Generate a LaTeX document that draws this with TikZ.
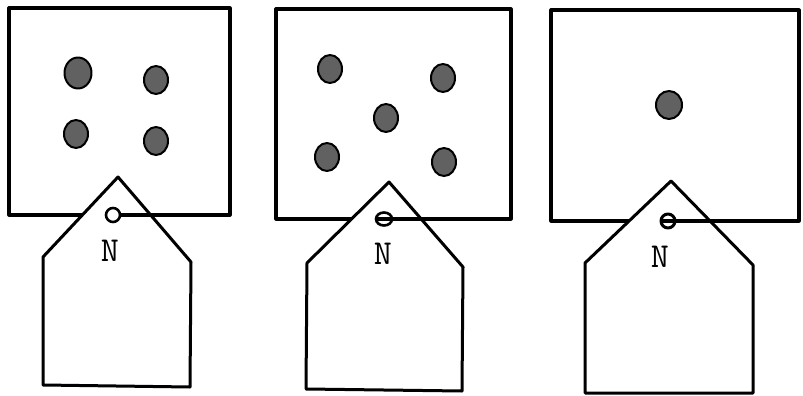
\documentclass[tikz,border=0pt]{standalone}
\usetikzlibrary{shapes.geometric}
\begin{document}
\begin{tikzpicture}[x=1pt,y=-1pt,line join=round,
  frame/.style={draw=black,line width=3.2pt},
  tagshape/.style={draw=black,fill=white,line width=3pt},
  holering/.style={draw=black,line width=2.6pt},
  string/.style={draw=black,line width=3.2pt},
  dotnode/.style={ellipse,draw=black,line width=2pt,fill=black!62,minimum width=24pt,minimum height=28pt,inner sep=0pt},
  tagletter/.style={font=\ttfamily\fontsize{35}{35}\selectfont,inner sep=0pt}]
\useasboundingbox (0,0) rectangle (803,396);
% ---------- panel 1 ----------
\draw[frame] (9,8) rectangle (230,215);
\coordinate (c1) at (230,215);
\node[dotnode,minimum width=27pt,minimum height=31pt] (d11) at (78,73) {};
\node[dotnode] (d12) at (156,80) {};
\node[dotnode] (d13) at (76,134) {};
\node[dotnode] (d14) at (156,141) {};
\draw[tagshape] (118,177) -- (191,262) -- (190,387) -- (43,385) -- (43,257) -- cycle;
\coordinate (h1) at (113,215);
\draw[string] ([xshift=7pt]h1) -- (c1);
\draw[holering] (h1) circle[radius=7pt];
\node[tagletter] (n1) at (110,251) {N};
% ---------- panel 2 ----------
\draw[frame] (276,9) rectangle (511,219);
\coordinate (c2) at (511,219);
\node[dotnode] (d21) at (330,69) {};
\node[dotnode] (d22) at (443,78) {};
\node[dotnode] (d23) at (386,118) {};
\node[dotnode] (d24) at (327,157) {};
\node[dotnode] (d25) at (444,162) {};
\draw[tagshape] (389,182) -- (463,267) -- (462,391) -- (306,389) -- (307,263) -- cycle;
\coordinate (h2) at (384,219);
\draw[string] ([xshift=-7pt]h2) -- (c2);
\draw[holering] (h2) ellipse[x radius=8pt,y radius=6.5pt];
\node[tagletter] (n2) at (383,254) {N};
% ---------- panel 3 ----------
\draw[frame] (551,10) rectangle (799,221);
\coordinate (c3) at (799,221);
\node[dotnode,minimum width=26pt,minimum height=28pt] (d31) at (669,105) {};
\draw[tagshape] (671,181) -- (753,265) -- (753,393) -- (585,393) -- (585,263) -- cycle;
\coordinate (h3) at (668,221);
\draw[string] ([xshift=-6pt]h3) -- (c3);
\draw[holering,line width=3pt] (h3) circle[radius=7pt];
\node[tagletter] (n3) at (660,257) {N};
\end{tikzpicture}
\end{document}
